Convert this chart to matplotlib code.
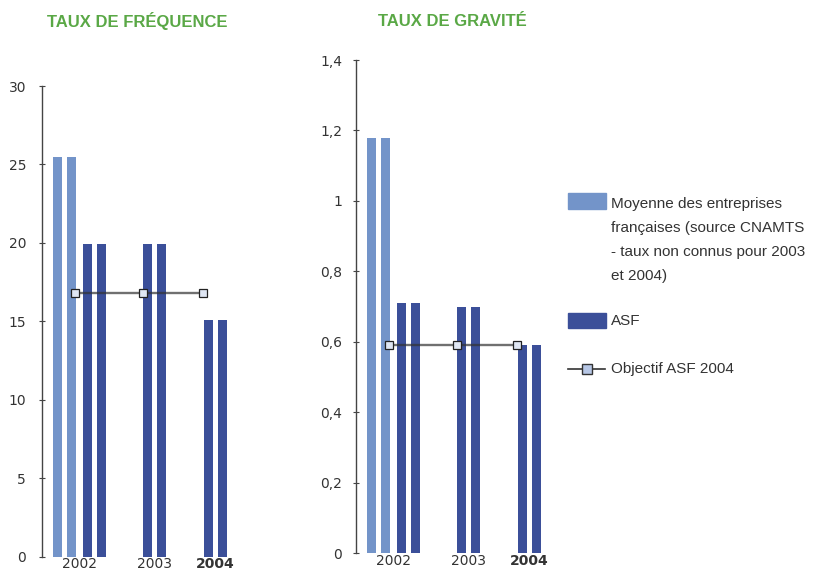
import matplotlib
matplotlib.use("Agg")
import matplotlib.pyplot as plt
from matplotlib.patches import Rectangle
from matplotlib.lines import Line2D
from matplotlib.ticker import FuncFormatter

# --- data ---
years = ["2002", "2003", "2004"]

freq_moyenne = [25.5, None, None]      # CNAMTS, unknown for 2003/2004
freq_asf = [19.9, 19.9, 15.1]
freq_objectif = [16.8, 16.8, 16.8]

grav_moyenne = [1.18, None, None]
grav_asf = [0.71, 0.70, 0.59]
grav_objectif = [0.59, 0.59, 0.59]

freq_ticks = [0, 5, 10, 15, 20, 25, 30]
grav_ticks = [0, 0.2, 0.4, 0.6, 0.8, 1.0, 1.2, 1.4]

legend_moyenne = ["Moyenne des entreprises",
                  "françaises (source CNAMTS",
                  "- taux non connus pour 2003",
                  "et 2004)"]

# --- styling ---
LIGHT = "#7394c9"
DARK = "#3b4f99"
GREEN = "#5aa846"
TEXT = "#333333"
W, H = 815, 571

# layout in "year pitch" units (1 = distance between two years)
first_center = 0.868     # centre of the ASF pair for the first year
light_shift = -0.496     # moyenne pair sits to the left of the ASF pair
pair_half = 0.116        # each value is drawn as two thin bars
bar_w = 0.149
marker_shift = [-0.33, -0.2, -0.2]

fig = plt.figure(figsize=(W / 100, H / 100), dpi=100)


def px_axes(x0, y0, x1, y1):
    return fig.add_axes([x0 / W, 1 - y1 / H, (x1 - x0) / W, (y1 - y0) / H])


def draw_panel(ax, moyenne, asf, objectif, ticks, ymax, pad):
    centers = []
    for i, year in enumerate(years):
        c = first_center + i
        edges = []
        for vals, color, shift in [(moyenne, LIGHT, light_shift), (asf, DARK, 0.0)]:
            v = vals[i]
            if v is None:
                continue
            xs = [c + shift - pair_half, c + shift + pair_half]
            ax.bar(xs, [v, v], width=bar_w, color=color, zorder=2)
            edges += [xs[0] - bar_w / 2, xs[1] + bar_w / 2]
        centers.append((min(edges) + max(edges)) / 2)

    mx = [first_center + i + marker_shift[i] for i in range(len(years))]
    ax.plot(mx, objectif, color=(0.2, 0.2, 0.2, 0.7), lw=1.7, marker="s",
            ms=5.5, mfc="#dfe6f3", mec="#222222", mew=0.9, zorder=3)

    ax.set_xlim(0, 3.44)
    ax.set_ylim(0, ymax)
    ax.set_yticks(ticks)
    ax.yaxis.set_major_formatter(FuncFormatter(lambda v, p: f"{v:g}".replace(".", ",")))
    ax.set_xticks(centers, years)
    ax.get_xticklabels()[-1].set_fontweight("bold")

    for s in ["top", "right", "bottom"]:
        ax.spines[s].set_visible(False)
    ax.spines["left"].set_color("#444444")
    ax.spines["left"].set_linewidth(1.0)
    ax.tick_params(axis="y", direction="inout", length=5, width=0.8,
                   color="#444444", labelsize=10, labelcolor=TEXT, pad=pad)
    ax.tick_params(axis="x", length=0, labelsize=10, labelcolor=TEXT, pad=0.3)
    for lab in ax.get_xticklabels() + ax.get_yticklabels():
        lab.set_fontfamily("DejaVu Sans")


ax1 = px_axes(42, 86, 250, 556.7)
draw_panel(ax1, freq_moyenne, freq_asf, freq_objectif, freq_ticks, 30, 9)

ax2 = px_axes(356, 60, 564, 553.3)
draw_panel(ax2, grav_moyenne, grav_asf, grav_objectif, grav_ticks, 1.4, 7.5)

# titles
fig.text(47 / W, 1 - 21 / H, "TAUX DE FRÉQUENCE", color=GREEN, fontsize=12,
         fontweight="heavy", family="Liberation Sans", va="center", ha="left")
fig.text(378 / W, 1 - 21 / H, "TAUX DE GRAVITÉ", color=GREEN, fontsize=12,
         fontweight="heavy", family="Liberation Sans", va="center", ha="left")

# legend, drawn in pixel coordinates
lax = fig.add_axes([0, 0, 1, 1])
lax.set_xlim(0, W)
lax.set_ylim(H, 0)
lax.axis("off")

lax.add_patch(Rectangle((568, 193), 38, 16, color=LIGHT))
for k, line in enumerate(legend_moyenne):
    lax.text(611, 204 + 24 * k, line, fontsize=11, color=TEXT,
             family="Liberation Sans", va="center", ha="left")

lax.add_patch(Rectangle((568, 313), 38, 15, color=DARK))
lax.text(611, 321, "ASF", fontsize=11, color=TEXT,
         family="Liberation Sans", va="center", ha="left")

lax.add_line(Line2D([568, 605], [369, 369], color="#333333", lw=1.2))
lax.add_line(Line2D([587], [369], marker="s", ms=6.5, mfc="#b7c7e6",
                    mec="#333333", mew=1.0))
lax.text(611, 369, "Objectif ASF 2004", fontsize=11, color=TEXT,
         family="Liberation Sans", va="center", ha="left")

fig.savefig("out.png", dpi=100)
